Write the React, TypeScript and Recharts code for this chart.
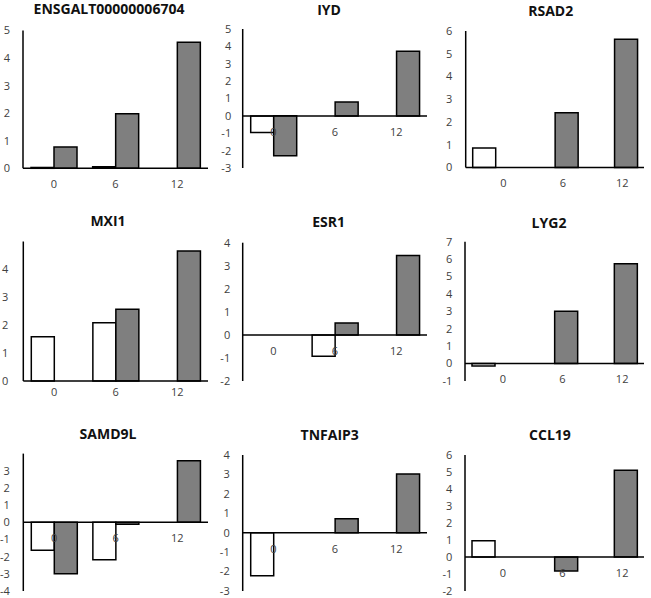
import { BarChart, Bar, XAxis, YAxis, ReferenceLine } from "recharts";

const TIMEPOINTS = ["0", "6", "12"];

// white = first series, gray = second series
const ENSGALT_WHITE = [0.03, 0.06, 0];
const ENSGALT_GRAY = [0.77, 1.98, 4.57];
const IYD_WHITE = [-0.95, 0, 0];
const IYD_GRAY = [-2.3, 0.8, 3.72];
const RSAD2_WHITE = [0.86, 0, 0];
const RSAD2_GRAY = [0, 2.41, 5.64];
const MXI1_WHITE = [1.59, 2.09, 0];
const MXI1_GRAY = [0, 2.57, 4.66];
const ESR1_WHITE = [0, -0.93, 0];
const ESR1_GRAY = [0, 0.52, 3.44];
const LYG2_WHITE = [-0.14, 0, 0];
const LYG2_GRAY = [0, 3.0, 5.74];
const SAMD9L_WHITE = [-1.63, -2.18, 0];
const SAMD9L_GRAY = [-3.0, -0.11, 3.58];
const TNFAIP3_WHITE = [-2.21, 0, 0];
const TNFAIP3_GRAY = [0, 0.72, 3.02];
const CCL19_WHITE = [0.96, 0, 0];
const CCL19_GRAY = [0, -0.82, 5.11];

const ENSGALT_TICKS = [0, 1, 2, 3, 4, 5];
const IYD_TICKS = [-3, -2, -1, 0, 1, 2, 3, 4, 5];
const RSAD2_TICKS = [0, 1, 2, 3, 4, 5, 6];
const MXI1_TICKS = [0, 1, 2, 3, 4];
const ESR1_TICKS = [-2, -1, 0, 1, 2, 3, 4];
const LYG2_TICKS = [-1, 0, 1, 2, 3, 4, 5, 6, 7];
const SAMD9L_TICKS = [-4, -3, -2, -1, 0, 1, 2, 3];
const TNFAIP3_TICKS = [-3, -2, -1, 0, 1, 2, 3, 4];
const CCL19_TICKS = [-2, -1, 0, 1, 2, 3, 4, 5, 6];

const FONT = "'Open Sans', 'DejaVu Sans', sans-serif";
const GRAY = "#7f7f7f";
const TEXT = "#404040";

interface Layout {
  left: number; top: number;       // panel origin on page
  axisX: number; xEnd: number;     // plot x range inside panel
  yTop: number; yBottom: number;   // plot y range inside panel
  yGap: number; labelDx: number; labelDy?: number;
  titleX: number; titleY: number;  // title centre inside panel
}

interface PanelProps {
  title: string;
  white: number[];
  gray: number[];
  ticks: number[];
  domain: [number, number];
  layout: Layout;
}

const W = 217;
const H = 200;

function Panel({ title, white, gray, ticks, domain, layout }: PanelProps) {
  const data = TIMEPOINTS.map((t, i) => ({ t, white: white[i], gray: gray[i] }));
  const plotH = layout.yBottom - layout.yTop;
  const zeroY = layout.yTop + (domain[1] / (domain[1] - domain[0])) * plotH;
  const labelDy = layout.labelDy ?? 16;

  const XTick = (props: any) => (
    <text
      x={props.x + layout.labelDx}
      y={zeroY + labelDy}
      dy="0.35em"
      textAnchor="middle"
      fill={TEXT}
      fontSize={11}
      fontFamily={FONT}
    >
      {props.payload.value}
    </text>
  );

  return (
    <div style={{ position: "absolute", left: layout.left, top: layout.top, width: W, height: H }}>
      <div
        style={{
          position: "absolute", left: layout.titleX, top: layout.titleY,
          transform: "translate(-50%, -50%)", fontFamily: FONT, fontWeight: 700,
          fontSize: 14, lineHeight: 1.1, color: "#111", whiteSpace: "nowrap",
        }}
      >
        {title}
      </div>
      <BarChart
        width={W}
        height={H}
        data={data}
        barSize={23}
        barGap={0}
        margin={{ top: layout.yTop, right: W - layout.xEnd, left: 0, bottom: H - layout.yBottom - 1 }}
        style={{ position: "absolute", left: 0, top: 0 }}
      >
        <XAxis dataKey="t" height={1} axisLine={false} tickLine={false} tick={XTick} interval={0} />
        <YAxis
          width={layout.axisX}
          domain={domain}
          ticks={ticks}
          interval={0}
          tickLine={false}
          tickSize={0}
          tickMargin={layout.yGap}
          axisLine={{ stroke: "#000", strokeWidth: 1.5 }}
          tick={{ fill: TEXT, fontSize: 11, fontFamily: FONT }}
        />
        <Bar dataKey="white" fill="#fff" stroke="#000" strokeWidth={1.5} isAnimationActive={false} />
        <Bar dataKey="gray" fill={GRAY} stroke="#000" strokeWidth={1.5} isAnimationActive={false} />
        <ReferenceLine y={0} stroke="#000" strokeWidth={1.5} />
      </BarChart>
    </div>
  );
}

export default function App() {
  return (
    <div style={{ position: "absolute", left: 0, top: 0, width: 651, height: 598, background: "#fff", overflow: "hidden" }}>
      <Panel title="ENSGALT00000006704" white={ENSGALT_WHITE} gray={ENSGALT_GRAY} ticks={ENSGALT_TICKS} domain={[0, 5]}
        layout={{ left: 0, top: 0, axisX: 23, xEnd: 208, yTop: 30.5, yBottom: 168.3, yGap: 13, labelDx: 0, titleX: 109, titleY: 9 }} />
      <Panel title="IYD" white={IYD_WHITE} gray={IYD_GRAY} ticks={IYD_TICKS} domain={[-3, 5]}
        layout={{ left: 217, top: 0, axisX: 25.7, xEnd: 210, yTop: 29, yBottom: 168, yGap: 11.5, labelDx: 0, titleX: 112, titleY: 10 }} />
      <Panel title="RSAD2" white={RSAD2_WHITE} gray={RSAD2_GRAY} ticks={RSAD2_TICKS} domain={[0, 6]}
        layout={{ left: 434, top: 0, axisX: 31.7, xEnd: 210, yTop: 31, yBottom: 167.5, yGap: 13.4, labelDx: 8, titleX: 116.7, titleY: 10.5 }} />

      <Panel title="MXI1" white={MXI1_WHITE} gray={MXI1_GRAY} ticks={MXI1_TICKS} domain={[0, 5]}
        layout={{ left: 0, top: 200, axisX: 23.3, xEnd: 208, yTop: 41.5, yBottom: 181, yGap: 15, labelDx: 0, labelDy: 11.5, titleX: 108, titleY: 20.5 }} />
      <Panel title="ESR1" white={ESR1_WHITE} gray={ESR1_GRAY} ticks={ESR1_TICKS} domain={[-2, 4]}
        layout={{ left: 217, top: 200, axisX: 25.7, xEnd: 210, yTop: 42.7, yBottom: 181, yGap: 12.5, labelDx: 0, titleX: 111.7, titleY: 22 }} />
      <Panel title="LYG2" white={LYG2_WHITE} gray={LYG2_GRAY} ticks={LYG2_TICKS} domain={[-1, 7]}
        layout={{ left: 434, top: 200, axisX: 31, xEnd: 210, yTop: 41.7, yBottom: 181, yGap: 12.7, labelDx: 8, titleX: 115, titleY: 23 }} />

      <Panel title="SAMD9L" white={SAMD9L_WHITE} gray={SAMD9L_GRAY} ticks={SAMD9L_TICKS} domain={[-4, 4]}
        layout={{ left: 0, top: 400, axisX: 23.3, xEnd: 208, yTop: 53.6, yBottom: 191, yGap: 13.5, labelDx: 0, titleX: 108, titleY: 34.3 }} />
      <Panel title="TNFAIP3" white={TNFAIP3_WHITE} gray={TNFAIP3_GRAY} ticks={TNFAIP3_TICKS} domain={[-3, 4]}
        layout={{ left: 217, top: 400, axisX: 25.7, xEnd: 210, yTop: 55, yBottom: 191, yGap: 13, labelDx: 0, titleX: 112.7, titleY: 34.7 }} />
      <Panel title="CCL19" white={CCL19_WHITE} gray={CCL19_GRAY} ticks={CCL19_TICKS} domain={[-2, 6]}
        layout={{ left: 434, top: 400, axisX: 31, xEnd: 210, yTop: 55, yBottom: 191, yGap: 12.7, labelDx: 8, titleX: 116, titleY: 34.5 }} />
    </div>
  );
}
